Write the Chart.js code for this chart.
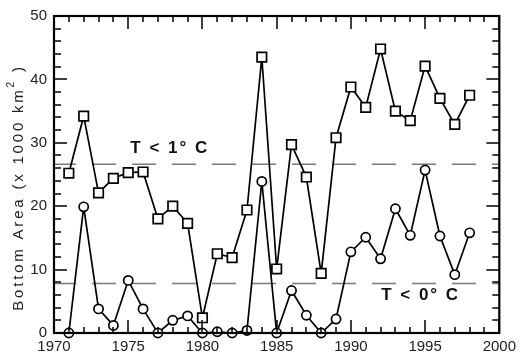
<!DOCTYPE html>
<html>
<head>
<meta charset="utf-8">
<script src="https://cdn.jsdelivr.net/npm/chart.js@4/dist/chart.umd.min.js"></script>
<style>
    html, body { margin: 0; padding: 0; background: #fff; }
    #wrap { width: 521px; height: 354px; }
</style>
</head>
<body>
<div id="wrap"><canvas id="area-chart"></canvas></div>
<script>
'use strict';

const years = [1971, 1972, 1973, 1974, 1975, 1976, 1977, 1978, 1979, 1980,
    1981, 1982, 1983, 1984, 1985, 1986, 1987, 1988, 1989, 1990,
    1991, 1992, 1993, 1994, 1995, 1996, 1997, 1998];
// bottom area colder than 1 deg C (squares)
const areaBelow1 = [25.2, 34.2, 22.1, 24.4, 25.3, 25.4, 18.0, 20.0, 17.3, 2.4,
    12.5, 11.9, 19.4, 43.5, 10.1, 29.7, 24.6, 9.4, 30.8, 38.8,
    35.6, 44.8, 35.0, 33.5, 42.1, 37.0, 32.9, 37.5];
// bottom area colder than 0 deg C (circles)
const areaBelow0 = [0, 19.9, 3.8, 1.2, 8.3, 3.8, 0, 2.0, 2.7, 0,
    0.2, 0, 0.4, 23.9, 0, 6.7, 2.8, 0, 2.2, 12.8,
    15.1, 11.7, 19.6, 15.4, 25.7, 15.3, 9.2, 15.8];
const meanLevels = [26.6, 7.8];
const levelLabels = ['T < 1° C', 'T < 0° C'];
const xTicks = [1970, 1975, 1980, 1985, 1990, 1995, 2000];
const yTitle = ['Bottom Area (x 1000 km', '2', ' )'];

const FONT = '"Liberation Sans", Arial, sans-serif';

function toPoints(xs, ys) {
    return xs.map((x, i) => ({ x: x, y: ys[i] }));
}

function levelLine(value) {
    return {
        data: [{ x: xTicks[0], y: value }, { x: xTicks[xTicks.length - 1], y: value }],
        borderColor: '#7a7a7a',
        borderWidth: 1.5,
        borderDash: [24, 16],
        borderDashOffset: 2,
        pointRadius: 0,
        order: 5
    };
}

// y title with superscript, drawn by hand (spaced letters like the original)
function drawYTitle(ctx, chart) {
    const a = chart.chartArea;
    ctx.save();
    ctx.translate(19, (a.top + a.bottom) / 2 + 13);
    ctx.rotate(-Math.PI / 2);
    ctx.fillStyle = '#222';
    ctx.textBaseline = 'middle';
    ctx.textAlign = 'left';
    ctx.letterSpacing = '2.8px';
    ctx.font = '15px ' + FONT;
    const w0 = ctx.measureText(yTitle[0]).width;
    ctx.font = '10px ' + FONT;
    const w1 = ctx.measureText(yTitle[1]).width;
    ctx.font = '15px ' + FONT;
    const w2 = ctx.measureText(yTitle[2]).width;
    let x0 = -(w0 + w1 + w2) / 2;
    ctx.fillText(yTitle[0], x0, 0);
    ctx.font = '10px ' + FONT;
    ctx.fillText(yTitle[1], x0 + w0, -8);
    ctx.font = '15px ' + FONT;
    ctx.fillText(yTitle[2], x0 + w0 + w1, 0);
    ctx.restore();
}

// inward ticks on all four sides, the box, and the two level labels
const frameTicks = {
    id: 'frameTicks',
    afterDraw(chart) {
        const ctx = chart.ctx;
        const a = chart.chartArea;
        const xs = chart.scales.x;
        const ys = chart.scales.y;
        ctx.save();
        ctx.setLineDash([]);
        ctx.fillStyle = '#000';
        for (let v = 1970; v <= 2000; v++) {
            const px = Math.round(xs.getPixelForValue(v));
            const len = v % 5 === 0 ? 13 : 6;
            ctx.fillRect(px - 0.75, a.bottom - len, 1.5, len);
            ctx.fillRect(px - 0.75, a.top, 1.5, len);
        }
        for (let v = 0; v <= 50; v += 2) {
            const py = Math.round(ys.getPixelForValue(v));
            const len = v % 10 === 0 ? 13 : 7;
            ctx.fillRect(a.left, py - 0.75, len, 1.5);
            ctx.fillRect(a.right - len, py - 0.75, len, 1.5);
        }
        ctx.strokeStyle = '#000';
        ctx.lineWidth = 2.2;
        ctx.strokeRect(a.left, a.top, a.right - a.left, a.bottom - a.top);

        ctx.fillStyle = '#111';
        ctx.font = 'bold 17px ' + FONT;
        ctx.letterSpacing = '2px';
        ctx.textAlign = 'center';
        ctx.textBaseline = 'middle';
        ctx.fillText(levelLabels[0], xs.getPixelForValue(1977.8), ys.getPixelForValue(29.1));
        ctx.fillText(levelLabels[1], xs.getPixelForValue(1994.7), ys.getPixelForValue(6.0));
        ctx.restore();

        drawYTitle(ctx, chart);
    }
};

const ctx = document.getElementById('area-chart').getContext('2d');
const tickFont = { family: FONT, size: 15 };

new Chart(ctx, {
    type: 'line',
    data: {
        datasets: [
            {
                data: toPoints(years, areaBelow1),
                borderColor: '#000',
                borderWidth: 1.7,
                pointStyle: 'rect',
                pointRadius: 6.7,
                pointBorderWidth: 1.7,
                pointBackgroundColor: '#fff',
                pointBorderColor: '#000',
                clip: false,
                order: 1
            },
            {
                data: toPoints(years, areaBelow0),
                borderColor: '#000',
                borderWidth: 1.7,
                pointStyle: 'circle',
                pointRadius: 4.6,
                pointBorderWidth: 1.7,
                pointBackgroundColor: '#fff',
                pointBorderColor: '#000',
                clip: false,
                order: 2
            },
            levelLine(meanLevels[0]),
            levelLine(meanLevels[1])
        ]
    },
    options: {
        responsive: true,
        maintainAspectRatio: false,
        animation: false,
        layout: { padding: { top: 16, right: 17, left: 0, bottom: 0 } },
        plugins: {
            legend: { display: false },
            tooltip: { enabled: false }
        },
        scales: {
            x: {
                type: 'linear',
                min: 1970,
                max: 2000,
                grid: { display: false, drawTicks: false },
                border: { display: false },
                afterBuildTicks: s => { s.ticks = xTicks.map(v => ({ value: v })); },
                afterFit: s => { s.height = 21; },
                ticks: {
                    color: '#222',
                    font: tickFont,
                    padding: 5,
                    maxRotation: 0,
                    callback: v => String(v)
                }
            },
            y: {
                min: 0,
                max: 50,
                grid: { display: false, drawTicks: false },
                border: { display: false },
                afterFit: s => { s.width = 54; },
                ticks: {
                    stepSize: 10,
                    color: '#222',
                    font: tickFont,
                    padding: 7
                }
            }
        }
    },
    plugins: [frameTicks]
});
</script>
</body>
</html>
